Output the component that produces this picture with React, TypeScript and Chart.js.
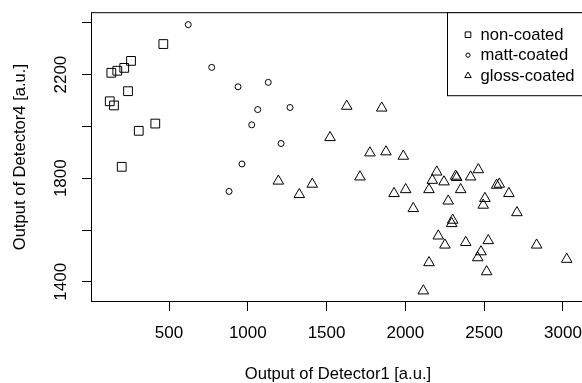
import React, { useEffect, useRef } from 'react';
import { Chart, registerables } from 'chart.js';

Chart.register(...registerables);

// ---- data ----
const seriesNames = ['non-coated', 'matt-coated', 'gloss-coated'];

const nonCoatedX = [464, 259, 216, 172, 134, 240, 124, 151, 413, 308, 200];
const nonCoatedY = [2318, 2253, 2226, 2215, 2207, 2136, 2097, 2081, 2011, 1983, 1844];

const mattCoatedX = [622, 771, 938, 1130, 1063, 1268, 1025, 1211, 963, 881];
const mattCoatedY = [2393, 2228, 2153, 2170, 2065, 2073, 2006, 1934, 1855, 1749];

const glossCoatedX = [
  1194, 1327, 1409, 1522, 1628, 1850, 1712, 1775, 1877, 1987,
  1928, 2002, 2050, 2199, 2171, 2245, 2150, 2319, 2326, 2414,
  2463, 2351, 2272, 2579, 2596, 2657, 2505, 2494, 2708, 2300,
  2294, 2209, 2251, 2383, 2526, 2480, 2459, 2833, 3024, 2150,
  2516, 2114,
];
const glossCoatedY = [
  1789, 1737, 1777, 1957, 2078, 2071, 1805, 1898, 1902, 1885,
  1741, 1756, 1683, 1824, 1792, 1786, 1756, 1808, 1803, 1805,
  1833, 1756, 1712, 1773, 1777, 1741, 1722, 1696, 1667, 1638,
  1625, 1577, 1542, 1552, 1559, 1516, 1493, 1542, 1487, 1474,
  1439, 1365,
];

const xTicks = [500, 1000, 1500, 2000, 2500, 3000];
const xTickLabels = ['500', '1000', '1500', '2000', '2500', '3000'];
const yTicks = [1400, 1600, 1800, 2000, 2200, 2400];
const yTickLabels = ['1400', '', '1800', '', '2200', ''];

const xTitle = 'Output of Detector1 [a.u.]';
const yTitle = 'Output of Detector4 [a.u.]';

const X_MIN = 5;
const X_MAX = 3140;
const Y_MIN = 1322;
const Y_MAX = 2441;

const FONT = '"Liberation Sans", Arial, sans-serif';
const INK = '#000000';

const toPoints = (xs: number[], ys: number[]) => xs.map((x, i) => ({ x, y: ys[i] }));

const boxAndLegend = {
  id: 'boxAndLegend',
  afterDraw(chart: any) {
    const ctx: CanvasRenderingContext2D = chart.ctx;
    const a = chart.chartArea;
    ctx.save();
    ctx.strokeStyle = INK;
    ctx.lineWidth = 1;
    // plot box
    ctx.strokeRect(a.left + 0.5, a.top + 0.5, a.right - a.left - 1, a.bottom - a.top - 1);

    // legend box (top right, as R's legend)
    const lw = 138;
    const lh = 83;
    const lx = Math.round(a.right - lw) + 0.5;
    const ly = a.top + 0.5;
    ctx.fillStyle = '#ffffff';
    ctx.fillRect(lx, ly, lw, lh);
    ctx.strokeRect(lx, ly, lw, lh);

    const rows = [22, 42.5, 63];
    chart.data.datasets.forEach((ds: any, i: number) => {
      const cx = lx + 20.5;
      const cy = ly + rows[i];
      ctx.beginPath();
      if (ds.pointStyle === 'rect') {
        ctx.rect(cx - 2.8, cy - 2.8, 5.6, 5.6);
      } else if (ds.pointStyle === 'circle') {
        ctx.arc(cx, cy, 2.1, 0, Math.PI * 2);
      } else {
        const r = 3.7;
        ctx.moveTo(cx, cy - r);
        ctx.lineTo(cx + r * 0.866, cy + r * 0.5);
        ctx.lineTo(cx - r * 0.866, cy + r * 0.5);
        ctx.closePath();
      }
      ctx.stroke();
      ctx.fillStyle = INK;
      ctx.font = `16.6px ${FONT}`;
      ctx.textBaseline = 'middle';
      ctx.textAlign = 'left';
      ctx.fillText(ds.label, lx + 33, cy + 0.5);
    });
    ctx.restore();
  },
};

export default function App() {
  const canvasRef = useRef<HTMLCanvasElement | null>(null);

  useEffect(() => {
    document.body.style.margin = '0';
    const canvas = canvasRef.current;
    if (!canvas) return;
    const chart = new Chart(canvas, {
      type: 'scatter',
      data: {
        datasets: [
          {
            label: seriesNames[0],
            data: toPoints(nonCoatedX, nonCoatedY),
            pointStyle: 'rect',
            pointRadius: 6.2,
            borderColor: INK,
            backgroundColor: 'rgba(0,0,0,0)',
            borderWidth: 1,
          },
          {
            label: seriesNames[1],
            data: toPoints(mattCoatedX, mattCoatedY),
            pointStyle: 'circle',
            pointRadius: 3,
            borderColor: INK,
            backgroundColor: 'rgba(0,0,0,0)',
            borderWidth: 1,
          },
          {
            label: seriesNames[2],
            data: toPoints(glossCoatedX, glossCoatedY),
            pointStyle: 'triangle',
            pointRadius: 6.1,
            borderColor: INK,
            backgroundColor: 'rgba(0,0,0,0)',
            borderWidth: 1,
          },
        ],
      },
      options: {
        animation: false,
        responsive: false,
        devicePixelRatio: 1,
        layout: { padding: { left: 0, top: 12, right: 15, bottom: 0 } },
        plugins: {
          legend: { display: false },
          tooltip: { enabled: false },
        },
        scales: {
          x: {
            type: 'linear',
            min: X_MIN,
            max: X_MAX,
            afterBuildTicks: (axis: any) => {
              axis.ticks = xTicks.map((v) => ({ value: v }));
            },
            afterFit: (axis: any) => {
              axis.height = 81;
            },
            grid: {
              drawOnChartArea: false,
              drawTicks: true,
              tickLength: 9,
              color: INK,
              lineWidth: 1,
            },
            border: { display: false },
            ticks: {
              autoSkip: false,
              maxRotation: 0,
              minRotation: 0,
              padding: 12,
              color: INK,
              font: { family: FONT, size: 17 },
              callback: (v: any) => {
                const i = xTicks.indexOf(Number(v));
                return i >= 0 ? xTickLabels[i] : '';
              },
            },
            title: {
              display: true,
              text: xTitle,
              color: INK,
              font: { family: FONT, size: 16.6, lineHeight: 1 },
              padding: { top: 0, bottom: 0 },
            },
          },
          y: {
            type: 'linear',
            min: Y_MIN,
            max: Y_MAX,
            afterBuildTicks: (axis: any) => {
              axis.ticks = yTicks.map((v) => ({ value: v }));
            },
            afterFit: (axis: any) => {
              axis.width = 91;
            },
            grid: {
              drawOnChartArea: false,
              drawTicks: true,
              tickLength: 9,
              color: INK,
              lineWidth: 1,
            },
            border: { display: false },
            ticks: {
              autoSkip: false,
              minRotation: 90,
              maxRotation: 90,
              crossAlign: 'center',
              padding: 2,
              color: INK,
              font: { family: FONT, size: 17 },
              callback: (v: any) => {
                const i = yTicks.indexOf(Number(v));
                return i >= 0 ? yTickLabels[i] : '';
              },
            },
            title: {
              display: true,
              text: yTitle,
              color: INK,
              font: { family: FONT, size: 16.6, lineHeight: 1 },
              padding: { top: 12, bottom: 0 },
            },
          },
        },
      },
      plugins: [boxAndLegend],
    } as any);
    return () => chart.destroy();
  }, []);

  return (
    <div
      style={{
        position: 'absolute',
        left: 0,
        top: 0,
        width: 582,
        height: 383,
        overflow: 'hidden',
        background: '#ffffff',
      }}
    >
      <canvas
        ref={canvasRef}
        width={600}
        height={383}
        style={{ display: 'block', width: 600, height: 383 }}
      />
    </div>
  );
}
